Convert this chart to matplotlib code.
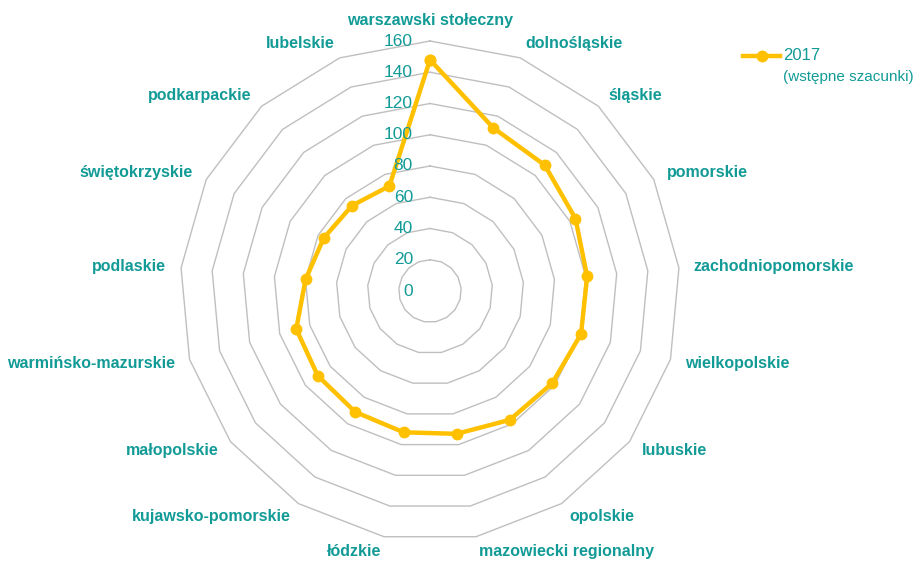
import numpy as np
import matplotlib
matplotlib.use("Agg")
import matplotlib.pyplot as plt
from matplotlib.lines import Line2D

categories = ["warszawski stołeczny", "dolnośląskie", "śląskie", "pomorskie",
              "zachodniopomorskie", "wielkopolskie", "lubuskie", "opolskie",
              "mazowiecki regionalny", "łódzkie", "kujawsko-pomorskie", "małopolskie",
              "warmińsko-mazurskie", "podlaskie", "świętokrzyskie", "podkarpackie",
              "lubelskie"]
values_2017 = [148, 112, 109, 104, 101, 100.5, 98, 97, 93, 92, 91, 90, 89, 80, 76, 74, 72]
radial_ticks = [0, 20, 40, 60, 80, 100, 120, 140, 160]
series_label = "2017\n(wstępne szacunki)"

TEAL = "#129b96"
GOLD = "#FFC000"
GRID = "#bfbfbf"
FONT = ["Liberation Sans Narrow", "Liberation Sans", "DejaVu Sans"]

W, H = 921, 563
fig = plt.figure(figsize=(W / 100, H / 100), dpi=100)
cx, cy, R = 430, 291, 250
ax = fig.add_axes([(cx - R) / W, (H - cy - R) / H, 2 * R / W, 2 * R / H], projection="polar")
ax.set_theta_zero_location("N")
ax.set_theta_direction(-1)
ax.set_ylim(0, 160)
ax.axis("off")

n = len(categories)
angles = np.arange(n) * 2 * np.pi / n

# polygonal grid
for t in radial_ticks[1:]:
    a = np.append(angles, angles[0])
    ax.plot(a, [t] * (n + 1), color=GRID, lw=1.0, zorder=1, clip_on=False)

# data
a = np.append(angles, angles[0])
v = values_2017 + [values_2017[0]]
line, = ax.plot(a, v, color=GOLD, lw=3.2, marker="o", ms=7.5, zorder=3, clip_on=False)

# radial tick labels
for t in radial_ticks:
    ax.annotate(str(t), xy=(0, t), xytext=(-17, 0), textcoords="offset pixels",
                ha="right", va="center", color=TEAL, fontsize=12.5,
                family=FONT, zorder=4)

# category labels
for i, (ang, lab) in enumerate(zip(angles, categories)):
    s = np.sin(ang)
    if i == 0:
        ax.text(ang, 173, lab, ha="center", va="center", color=TEAL, fontsize=11.5,
                fontweight="bold", family=FONT)
        continue
    ha = "left" if s > 0 else "right"
    ax.text(ang, 169.6, lab, ha=ha, va="center", color=TEAL, fontsize=11.5,
            fontweight="bold", family=FONT)

# legend (drawn manually in figure pixels)
ly = 1 - 56 / H
fig.add_artist(Line2D([743 / W, 780 / W], [ly, ly], color=GOLD, lw=3.2,
                      transform=fig.transFigure))
fig.add_artist(Line2D([761.5 / W], [ly], color=GOLD, marker="o", ms=7.5,
                      transform=fig.transFigure))
first, second = series_label.split("\n")
fig.text(783 / W, ly, first, ha="left", va="center", color=TEAL, fontsize=12,
         family=FONT)
fig.text(783 / W, 1 - 77 / H, second, ha="left", va="center", color=TEAL, fontsize=11,
         family=FONT)

fig.savefig("out.png", dpi=100)
